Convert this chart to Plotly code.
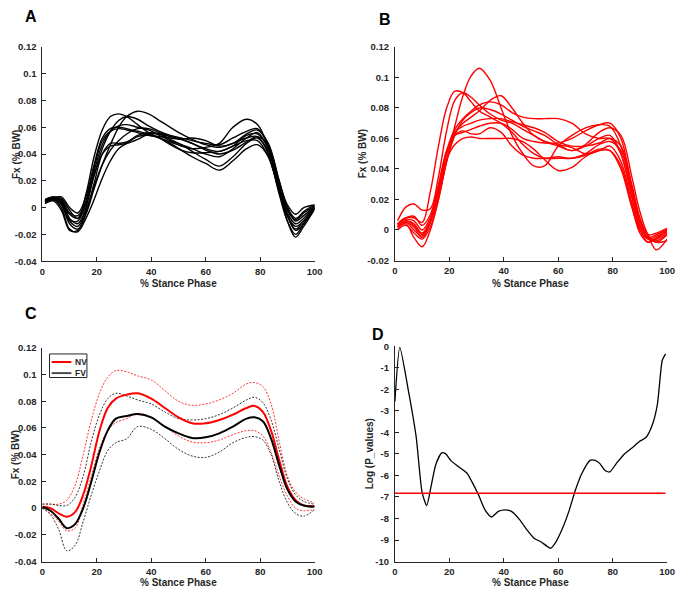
import plotly.graph_objects as go

# ---------------- data ----------------
stance = [1, 4, 7, 10, 13, 16, 19, 22, 25, 28, 31, 35, 39, 43, 47, 51, 55, 60, 65, 70, 75, 79, 83, 87, 90, 93, 96, 100]

fv_trials = [
    [0.005, 0.007, 0.004, -0.005, -0.008, 0.010, 0.038, 0.058, 0.068, 0.070, 0.068, 0.062, 0.056, 0.052, 0.049, 0.046, 0.044, 0.045, 0.048, 0.060, 0.066, 0.062, 0.045, 0.015, -0.006, -0.016, -0.010, 0.000],
    [0.004, 0.006, 0.002, -0.012, -0.016, -0.005, 0.014, 0.032, 0.047, 0.060, 0.068, 0.072, 0.070, 0.065, 0.060, 0.055, 0.051, 0.047, 0.045, 0.048, 0.052, 0.053, 0.040, 0.010, -0.010, -0.020, -0.012, 0.000],
    [0.006, 0.008, 0.007, -0.002, -0.008, 0.002, 0.024, 0.044, 0.057, 0.065, 0.068, 0.066, 0.061, 0.057, 0.054, 0.052, 0.050, 0.048, 0.047, 0.052, 0.057, 0.059, 0.046, 0.015, -0.004, -0.012, -0.008, 0.001],
    [0.005, 0.007, 0.005, -0.008, -0.012, 0.000, 0.027, 0.047, 0.057, 0.061, 0.062, 0.060, 0.058, 0.054, 0.050, 0.047, 0.044, 0.040, 0.038, 0.044, 0.052, 0.056, 0.044, 0.018, 0.000, -0.010, -0.006, 0.001],
    [0.003, 0.005, -0.002, -0.017, -0.017, -0.004, 0.018, 0.040, 0.048, 0.048, 0.049, 0.054, 0.056, 0.055, 0.051, 0.047, 0.042, 0.036, 0.031, 0.038, 0.048, 0.052, 0.042, 0.014, -0.006, -0.014, -0.010, 0.000],
    [0.004, 0.006, 0.000, -0.016, -0.018, -0.008, 0.006, 0.022, 0.035, 0.044, 0.048, 0.053, 0.054, 0.052, 0.048, 0.043, 0.038, 0.033, 0.028, 0.035, 0.044, 0.047, 0.038, 0.012, -0.010, -0.022, -0.014, -0.001],
    [0.006, 0.008, 0.006, -0.004, -0.006, 0.005, 0.030, 0.050, 0.057, 0.059, 0.058, 0.056, 0.054, 0.053, 0.052, 0.051, 0.052, 0.050, 0.046, 0.048, 0.055, 0.058, 0.048, 0.020, 0.000, -0.008, -0.003, 0.002],
    [0.005, 0.006, 0.003, -0.010, -0.014, -0.002, 0.016, 0.032, 0.043, 0.050, 0.055, 0.059, 0.059, 0.056, 0.053, 0.051, 0.048, 0.044, 0.042, 0.046, 0.050, 0.050, 0.038, 0.012, -0.006, -0.017, -0.012, -0.001],
    [0.004, 0.007, 0.008, 0.000, -0.004, 0.008, 0.032, 0.052, 0.059, 0.060, 0.059, 0.057, 0.055, 0.052, 0.047, 0.043, 0.041, 0.041, 0.042, 0.046, 0.054, 0.055, 0.044, 0.016, -0.002, -0.009, -0.004, 0.001],
    [0.005, 0.007, 0.004, -0.009, -0.010, 0.004, 0.024, 0.040, 0.046, 0.047, 0.048, 0.051, 0.055, 0.055, 0.053, 0.051, 0.048, 0.043, 0.040, 0.043, 0.049, 0.053, 0.046, 0.020, 0.002, -0.005, 0.000, 0.002],
]

nv_trials = [
    [0.002, 0.005, 0.000, -0.004, 0.005, 0.022, 0.045, 0.068, 0.088, 0.101, 0.106, 0.098, 0.080, 0.062, 0.050, 0.042, 0.042, 0.055, 0.062, 0.067, 0.069, 0.068, 0.055, 0.025, 0.005, -0.005, -0.006, -0.002],
    [0.004, 0.008, 0.008, 0.005, 0.025, 0.055, 0.080, 0.091, 0.090, 0.084, 0.078, 0.074, 0.070, 0.064, 0.056, 0.050, 0.047, 0.047, 0.047, 0.049, 0.053, 0.052, 0.040, 0.015, 0.000, -0.006, -0.004, -0.001],
    [0.006, 0.015, 0.017, 0.013, 0.014, 0.035, 0.065, 0.085, 0.090, 0.087, 0.082, 0.076, 0.072, 0.070, 0.066, 0.062, 0.058, 0.055, 0.052, 0.055, 0.060, 0.062, 0.050, 0.022, 0.002, -0.005, -0.003, 0.000],
    [0.003, 0.005, 0.002, -0.005, 0.005, 0.025, 0.050, 0.064, 0.070, 0.074, 0.078, 0.085, 0.088, 0.080, 0.070, 0.062, 0.058, 0.056, 0.054, 0.050, 0.052, 0.055, 0.045, 0.018, 0.000, -0.008, -0.006, 0.000],
    [0.004, 0.007, 0.006, 0.000, 0.008, 0.028, 0.052, 0.066, 0.073, 0.078, 0.082, 0.084, 0.082, 0.077, 0.074, 0.073, 0.073, 0.073, 0.070, 0.063, 0.060, 0.060, 0.050, 0.022, 0.003, -0.006, -0.007, -0.003],
    [0.001, 0.004, -0.005, -0.011, 0.000, 0.020, 0.045, 0.062, 0.072, 0.077, 0.080, 0.079, 0.076, 0.072, 0.068, 0.065, 0.062, 0.056, 0.052, 0.056, 0.064, 0.067, 0.062, 0.035, 0.012, -0.003, -0.008, -0.007],
    [0.000, 0.003, -0.002, -0.006, 0.002, 0.020, 0.045, 0.062, 0.065, 0.063, 0.063, 0.067, 0.064, 0.055, 0.049, 0.047, 0.047, 0.048, 0.047, 0.050, 0.056, 0.058, 0.052, 0.028, 0.006, -0.003, -0.002, 0.001],
    [0.003, 0.006, 0.004, -0.002, 0.006, 0.024, 0.046, 0.056, 0.060, 0.061, 0.060, 0.060, 0.060, 0.060, 0.058, 0.053, 0.046, 0.039, 0.041, 0.048, 0.052, 0.052, 0.042, 0.016, -0.002, -0.008, -0.005, -0.001],
    [0.002, 0.006, 0.003, -0.003, 0.006, 0.026, 0.050, 0.064, 0.068, 0.070, 0.072, 0.073, 0.073, 0.071, 0.069, 0.067, 0.064, 0.058, 0.055, 0.055, 0.057, 0.060, 0.055, 0.030, 0.008, -0.004, -0.008, -0.003],
    [0.004, 0.008, 0.009, 0.003, 0.010, 0.030, 0.052, 0.062, 0.064, 0.066, 0.068, 0.070, 0.070, 0.066, 0.060, 0.058, 0.057, 0.057, 0.060, 0.065, 0.069, 0.070, 0.060, 0.028, 0.006, -0.004, -0.013, -0.006],
]

stance_c = [0, 3, 6, 9, 12, 15, 18, 21, 24, 27, 31, 35, 40, 45, 50, 55, 60, 65, 70, 75, 78, 81, 84, 87, 90, 93, 96, 100]
nv_mean = [0.001, 0.000, -0.004, -0.0065, -0.003, 0.010, 0.032, 0.058, 0.075, 0.082, 0.085, 0.086, 0.082, 0.075, 0.068, 0.0635, 0.0635, 0.066, 0.070, 0.075, 0.0765, 0.072, 0.058, 0.036, 0.016, 0.006, 0.002, 0.0015]
nv_upper = [0.003, 0.003, 0.003, 0.006, 0.017, 0.040, 0.066, 0.086, 0.098, 0.103, 0.102, 0.099, 0.096, 0.088, 0.080, 0.077, 0.078, 0.081, 0.086, 0.093, 0.094, 0.091, 0.078, 0.050, 0.024, 0.012, 0.007, 0.004]
nv_lower = [0.000, -0.004, -0.010, -0.017, -0.015, 0.003, 0.024, 0.045, 0.058, 0.064, 0.067, 0.071, 0.068, 0.061, 0.054, 0.0495, 0.049, 0.051, 0.055, 0.058, 0.058, 0.054, 0.042, 0.024, 0.009, 0.000, -0.002, -0.001]
fv_mean = [0.001, -0.002, -0.008, -0.015, -0.012, 0.000, 0.020, 0.042, 0.058, 0.067, 0.069, 0.0705, 0.068, 0.061, 0.056, 0.0525, 0.053, 0.056, 0.061, 0.067, 0.068, 0.065, 0.052, 0.032, 0.014, 0.005, 0.002, 0.001]
fv_upper = [0.003, 0.003, 0.002, 0.002, 0.008, 0.024, 0.050, 0.070, 0.082, 0.086, 0.084, 0.081, 0.078, 0.072, 0.067, 0.066, 0.067, 0.070, 0.075, 0.081, 0.083, 0.079, 0.066, 0.044, 0.022, 0.010, 0.005, 0.003]
fv_lower = [0.000, -0.005, -0.016, -0.032, -0.028, -0.010, 0.010, 0.028, 0.043, 0.049, 0.052, 0.061, 0.059, 0.052, 0.044, 0.039, 0.038, 0.042, 0.049, 0.053, 0.0535, 0.051, 0.040, 0.020, 0.004, -0.004, -0.006, -0.001]

stance_d = [0, 1.8, 4.8, 7.8, 10, 11.7, 13.3, 15, 17.2, 18.7, 20.5, 22.9, 26.5, 28.3, 30.7, 33.1, 35.5, 38, 40.4, 42.8, 45.8, 48.8, 51.2, 53.6, 57.2, 59, 61.4, 63.9, 66.3, 68.7, 71.7, 73.5, 75.3, 77.1, 78.9, 81.3, 84.3, 87.3, 89.8, 92.2, 94.6, 96.4, 98.2, 99.4]
log_p = [-2.56, -0.05, -1.95, -4.2, -6.8, -7.4, -6.5, -5.5, -4.95, -5.0, -5.3, -5.55, -5.9, -6.3, -6.9, -7.6, -7.93, -7.67, -7.6, -7.67, -8.05, -8.58, -8.93, -9.08, -9.38, -9.12, -8.5, -7.67, -6.68, -5.9, -5.3, -5.3, -5.45, -5.76, -5.84, -5.45, -5.0, -4.7, -4.42, -4.24, -3.63, -2.71, -0.65, -0.35]
threshold_x = [0, 99.4]
threshold_y = [-6.83, -6.83]

legend_names = ['NV', 'FV']
x_ticks = [0, 20, 40, 60, 80, 100]
x_ticklabels = ['0', '20', '40', '60', '80', '100']
y_ticks_ac = [-0.04, -0.02, 0, 0.02, 0.04, 0.06, 0.08, 0.1, 0.12]
y_ticklabels_ac = ['-0.04', '-0.02', '0', '0.02', '0.04', '0.06', '0.08', '0.1', '0.12']
y_ticks_b = [-0.02, 0, 0.02, 0.04, 0.06, 0.08, 0.1, 0.12]
y_ticklabels_b = ['-0.02', '0', '0.02', '0.04', '0.06', '0.08', '0.1', '0.12']
y_ticks_d = [-10, -9, -8, -7, -6, -5, -4, -3, -2, -1, 0]
y_ticklabels_d = ['-10', '-9', '-8', '-7', '-6', '-5', '-4', '-3', '-2', '-1', '0']

# ---------------- figure ----------------
W, H = 685, 595
FONT = 'Liberation Sans'
AX = '#262626'

fig = go.Figure()

for tr in fv_trials:
    fig.add_trace(go.Scatter(x=stance, y=tr, mode='lines', xaxis='x', yaxis='y',
                             line=dict(color='black', width=1.4, shape='spline'),
                             showlegend=False, hoverinfo='skip'))
for tr in nv_trials:
    fig.add_trace(go.Scatter(x=stance, y=tr, mode='lines', xaxis='x2', yaxis='y2',
                             line=dict(color='#ff0000', width=1.4, shape='spline'),
                             showlegend=False, hoverinfo='skip'))

for ys, col in [(nv_upper, '#ff0000'), (nv_lower, '#ff0000'), (fv_upper, 'black'), (fv_lower, 'black')]:
    fig.add_trace(go.Scatter(x=stance_c, y=ys, mode='lines', xaxis='x3', yaxis='y3',
                             line=dict(color=col, width=0.8, dash='2px,1.5px', shape='spline'),
                             showlegend=False, hoverinfo='skip'))
fig.add_trace(go.Scatter(x=stance_c, y=nv_mean, mode='lines', xaxis='x3', yaxis='y3', name=legend_names[0],
                         line=dict(color='#ff0000', width=2, shape='spline'), showlegend=False))
fig.add_trace(go.Scatter(x=stance_c, y=fv_mean, mode='lines', xaxis='x3', yaxis='y3', name=legend_names[1],
                         line=dict(color='black', width=2, shape='spline'), showlegend=False))

fig.add_trace(go.Scatter(x=stance_d, y=log_p, mode='lines', xaxis='x4', yaxis='y4',
                         line=dict(color='black', width=1.3, shape='spline', smoothing=0.6),
                         showlegend=False, hoverinfo='skip'))
fig.add_trace(go.Scatter(x=threshold_x, y=threshold_y, mode='lines', xaxis='x4', yaxis='y4',
                         line=dict(color='#ff0000', width=1.5),
                         showlegend=False, hoverinfo='skip'))


def px_x(p):
    return p / W


def px_y(p):
    return 1 - p / H


tickfont = dict(family=FONT, size=9.5, color=AX, weight='bold')


def xax(domain, anchor):
    return dict(domain=domain, anchor=anchor, range=[0, 100], tickvals=x_ticks, ticktext=x_ticklabels,
                showline=True, linecolor=AX, linewidth=1, ticks='inside', ticklen=4, tickcolor=AX,
                showgrid=False, zeroline=False, tickfont=tickfont, ticklabelstandoff=1)


def yax(domain, anchor, rng, tv, tt):
    return dict(domain=domain, anchor=anchor, range=rng, tickvals=tv, ticktext=tt,
                showline=True, linecolor=AX, linewidth=1, ticks='inside', ticklen=4, tickcolor=AX,
                showgrid=False, zeroline=False, tickfont=tickfont, ticklabelstandoff=3)


left_dom = [px_x(40), px_x(316.7)]
right_dom = [px_x(398.3), px_x(675)]

fig.update_layout(
    width=W, height=H,
    margin=dict(l=0, r=0, t=0, b=0),
    paper_bgcolor='white', plot_bgcolor='white',
    showlegend=False,
    xaxis=xax(left_dom, 'y'),
    yaxis=yax([px_y(260), px_y(41.7)], 'x', [-0.04, 0.12], y_ticks_ac, y_ticklabels_ac),
    xaxis2=xax(right_dom, 'y2'),
    yaxis2=yax([px_y(259.3), px_y(41.7)], 'x2', [-0.02, 0.12], y_ticks_b, y_ticklabels_b),
    xaxis3=xax(left_dom, 'y3'),
    yaxis3=yax([px_y(566), px_y(348.3)], 'x3', [-0.04, 0.12], y_ticks_ac, y_ticklabels_ac),
    xaxis4=xax(right_dom, 'y4'),
    yaxis4=yax([px_y(566), px_y(346.7)], 'x4', [-10, 0], y_ticks_d, y_ticklabels_d),
)

# legend box for panel C (NV / FV)
fig.add_shape(type='rect', xref='paper', yref='paper', x0=px_x(47.3), x1=px_x(85.3), y0=px_y(378.5), y1=px_y(354.5),
              line=dict(color=AX, width=1), fillcolor='white')
for name, col, yy in [(legend_names[0], '#ff0000', 362.7), (legend_names[1], '#4d4d4d', 374)]:
    fig.add_shape(type='line', xref='paper', yref='paper', x0=px_x(49.5), x1=px_x(69.5), y0=px_y(yy), y1=px_y(yy),
                  line=dict(color=col, width=2))
    fig.add_annotation(text=name, x=px_x(71.5), y=px_y(yy), xref='paper', yref='paper', showarrow=False,
                       xanchor='left', yanchor='middle',
                       font=dict(family=FONT, size=8.5, color='#262626', weight='bold'))

titlefont = dict(family=FONT, size=10, color=AX, weight='bold')
letterfont = dict(family=FONT, size=16, color='black', weight='bold')
for t, x, ytop in [('A', 28, 0), ('B', 388, 2.7), ('C', 28.5, 302.7), ('D', 381, 324.4)]:
    fig.add_annotation(text=t, x=px_x(x), y=px_y(ytop), xref='paper', yref='paper',
                       showarrow=False, font=letterfont, xanchor='center', yanchor='top')

for x, y in [(178.3, 283), (536.6, 283), (178.3, 587), (536.6, 587)]:
    fig.add_annotation(text='% Stance Phase', x=px_x(x), y=px_y(y), xref='paper', yref='paper',
                       showarrow=False, font=titlefont, xanchor='center', yanchor='middle')
for t, x, y in [('Fx (% BW)', 13, 151), ('Fx (% BW)', 365, 151), ('Fx (% BW)', 13, 457), ('Log (P_values)', 372.7, 456)]:
    fig.add_annotation(text=t, x=px_x(x), y=px_y(y), xref='paper', yref='paper', textangle=-90,
                       showarrow=False, font=titlefont, xanchor='center', yanchor='middle')

# remove the default 8px page margin so the figure fills the window exactly
fig.write_html('out.html', config={'displayModeBar': False},
               post_script="document.body.style.margin='0px';")
